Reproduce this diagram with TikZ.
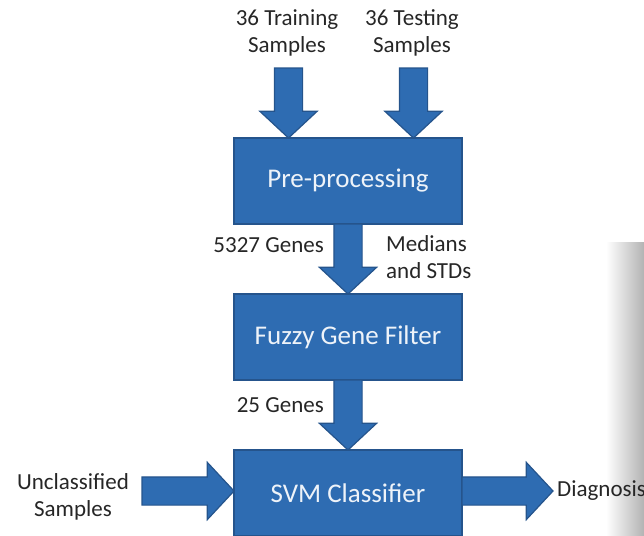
\documentclass[tikz,border=0pt]{standalone}
\usepackage{fontspec}
\setmainfont{Carlito}
\usetikzlibrary{calc,positioning,shapes.arrows}
\definecolor{boxblue}{RGB}{46,108,178}
\definecolor{boxline}{RGB}{37,84,140}
\definecolor{boxtext}{RGB}{238,243,249}
\newdimen\hdim
\newdimen\wdim
\hdim=86pt
\wdim=228pt
\tikzstyle{stage}=[
  draw=boxline,
  fill=boxblue,
  font={\fontsize{27}{30}\selectfont},
  inner sep=0pt,
  line width=1.2pt,
  minimum height=\hdim,
  minimum width=\wdim,
  outer sep=0pt,
  rectangle,
  text=boxtext,
]
\tikzstyle{blockarrow}=[
  anchor=tail,
  draw=boxline,
  fill=boxblue,
  inner xsep=0pt,
  inner ysep=13.5pt,
  line width=1.2pt,
  outer sep=0pt,
  single arrow,
  single arrow head extend=14.5pt,
  single arrow tip angle=94,
]
\tikzstyle{note}=[
  align=center,
  font={\fontsize{23}{27}\selectfont},
  inner sep=0pt,
  text=black!85,
]
\newcommand{\blockarrow}[2]{%
  \path let \p1=($(#2)-(#1)$), \n1={veclen(\x1,\y1)} in (#1)
    node [blockarrow, minimum height=\n1, rotate={atan2(\y1,\x1)}] {};%
}

\begin{document}
\begin{tikzpicture}[x=1pt,y=-1pt]
  \useasboundingbox (0,0) rectangle (644,535);
  % edge of a window behind
  \shade [left color=white, right color=black!30] (606,242) rectangle (644,535);
  \node (preproc) [stage] at (348,181) {Pre-processing};
  \node (fuzzy) [stage, below=70pt of preproc] {Fuzzy Gene Filter};
  \node (svm) [stage, below=70pt of fuzzy] {SVM Classifier};
  \node (training) [note] at (287,33) {36 Training\\Samples};
  \node (testing) [note] at (412,33) {36 Testing\\Samples};
  \node (allgenes) [note, anchor=east] at (324,245) {5327 Genes};
  \node (stats) [note, anchor=west, align=left] at (386,257) {Medians\\and STDs};
  \node (fewgenes) [note, anchor=east] at (324,405) {25 Genes};
  \node (unclass) [note] at (73,497) {Unclassified\\Samples};
  \node (diagnosis) [note, anchor=west] at (557,491) {Diagnosis};
  \coordinate (A) at (288.5,68);
  \coordinate (B) at (413.5,68);
  \coordinate (C) at (142,491);
  \coordinate (D) at (553,491);
  \blockarrow{A}{A |- preproc.north}
  \blockarrow{B}{B |- preproc.north}
  \blockarrow{preproc.south}{fuzzy.north}
  \blockarrow{fuzzy.south}{svm.north}
  \blockarrow{C}{C -| svm.west}
  \blockarrow{svm.east |- D}{D}
\end{tikzpicture}
\end{document}
